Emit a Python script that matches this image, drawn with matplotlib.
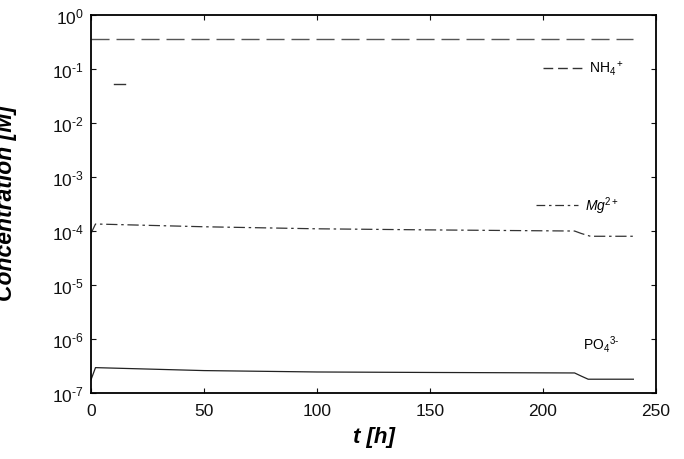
import numpy as np
import matplotlib
matplotlib.use('Agg')
import matplotlib.pyplot as plt
from matplotlib.ticker import LogLocator, NullLocator, FixedLocator, FuncFormatter

plt.rcParams['font.family'] = ['Liberation Sans', 'DejaVu Sans']
plt.rcParams['mathtext.fontset'] = 'custom'
plt.rcParams['mathtext.rm'] = 'Liberation Sans'
plt.rcParams['mathtext.it'] = 'Liberation Sans:italic'
plt.rcParams['mathtext.bf'] = 'Liberation Sans:bold'

# data
t_nh4 = [0, 240]
c_nh4 = [0.36, 0.36]

t_mg = [0, 2, 50, 100, 150, 214, 217, 221, 240]
c_mg = [9.0e-5, 1.35e-4, 1.2e-4, 1.1e-4, 1.05e-4, 1.0e-4, 9.0e-5, 8.0e-5, 8.0e-5]

t_po4 = [0, 2, 50, 100, 150, 214, 217, 220, 240]
c_po4 = [1.75e-7, 2.95e-7, 2.6e-7, 2.45e-7, 2.4e-7, 2.35e-7, 2.05e-7, 1.8e-7, 1.8e-7]

# stray dash near t=10..15
t_stray = [10, 15]
c_stray = [0.053, 0.053]

xticks = [0, 50, 100, 150, 200, 250]


def pow10(v, pos):
    e = int(round(np.log10(v)))
    return r'$10^{\text{%d}}$' % e


fig = plt.figure(figsize=(6.84, 4.60), dpi=100)
ax = fig.add_axes([0.133, 0.1435, 0.826, 0.8215])

ax.plot(t_nh4, c_nh4, color='#555555', lw=1.0, dashes=(13, 5))
ax.plot(t_mg, c_mg, color='#333333', lw=0.9, dashes=(9, 3, 2, 3))
ax.plot(t_po4, c_po4, color='#222222', lw=0.9)
ax.plot(t_stray, c_stray, color='#333333', lw=1.0)

ax.set_yscale('log')
ax.set_ylim(1e-7, 1)
ax.set_xlim(0, 250)
ax.xaxis.set_major_locator(FixedLocator(xticks))
ax.yaxis.set_major_locator(LogLocator(base=10, numticks=10))
ax.yaxis.set_minor_locator(NullLocator())
ax.yaxis.set_major_formatter(FuncFormatter(pow10))
ax.tick_params(direction='in', which='both', top=True, right=True,
               labelsize=12.5, length=3.6, width=0.8, colors='#111111')
ax.tick_params(axis='x', pad=7)
ax.tick_params(axis='y', pad=5)
for s in ax.spines.values():
    s.set_linewidth(1.3)

ax.set_xlabel('t [h]', fontsize=16, fontweight='bold', style='italic', labelpad=6)
fig.text(17 / 684, 0.559, 'Concentration [M]', rotation=90, ha='right', va='center',
         fontsize=16.5, fontweight='bold', style='italic')

# inline legend
ax.plot([0.80, 0.874], [0.861, 0.861], transform=ax.transAxes, color='#333333', lw=1.0, dashes=(7, 3.5))
ax.text(0.881, 0.861, r'NH$_4$$^+$', transform=ax.transAxes, fontsize=10, va='center')
ax.plot([0.788, 0.862], [0.497, 0.497], transform=ax.transAxes, color='#333333', lw=0.9, dashes=(7, 3, 2, 3))
ax.text(0.874, 0.497, r'$Mg^{\mathrm{2+}}$', transform=ax.transAxes, fontsize=10, va='center')
ax.text(0.871, 0.13, r'PO$_4$$^{\text{3-}}$', transform=ax.transAxes, fontsize=10, va='center')

fig.savefig('out.png', dpi=100)
